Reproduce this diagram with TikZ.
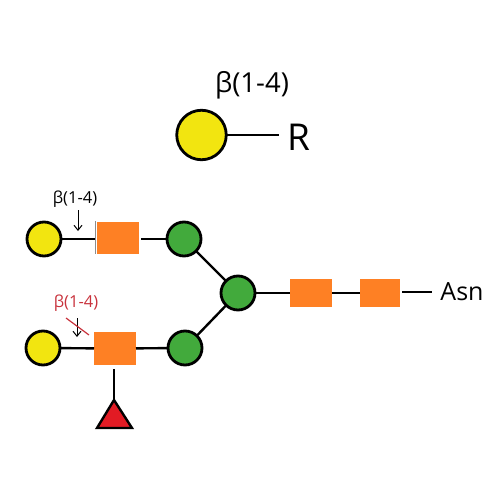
\documentclass[tikz,border=0pt]{standalone}
\usepackage{fontspec}
\setmainfont{Open Sans}
\definecolor{gyellow}{RGB}{242,229,16}
\definecolor{ggreen}{RGB}{66,170,60}
\definecolor{gorange}{RGB}{254,128,36}
\definecolor{gred}{RGB}{226,27,36}
\definecolor{tred}{RGB}{200,50,60}
\usetikzlibrary{arrows.meta,shapes.geometric}
\tikzset{
  px/.style={x=1pt,y=-1pt},
  link/.style={line width=2.4pt,black},
  sugar/.style={circle,draw=black,line width=2.8pt,inner sep=0pt,outer sep=0pt},
  gal/.style={sugar,fill=gyellow,minimum size=#1},
  gal/.default=34pt,
  man/.style={sugar,fill=ggreen,minimum size=34pt},
  glcnac/.style={rectangle,fill=gorange,inner sep=0pt,outer sep=0pt,minimum width=#1,minimum height=28pt},
  glcnac/.default=42pt,
  fucshape/.style={draw=black,fill=gred,line width=2.4pt,line join=miter},
  lab/.style={font=\fontsize{#1}{#1}\selectfont,inner sep=0pt,outer sep=0pt},
  pointer/.style={-{Straight Barb[length=5pt,width=8pt]},line width=1pt,black}
}
\begin{document}
\begin{tikzpicture}[px]
\useasboundingbox (0,0) rectangle (500,500);
% top legend
\node[lab=27.5] (toplab) at (252,85) {β(1-4)};
\node[lab=37] (R) at (299,137) {R};
\coordinate (Rend) at (279,135);
\node[gal=49.5pt] (g0) at (201.5,135) {};
\draw[link] (g0) -- (Rend);
% branch 1
\node[gal] (g1) at (44,239) {};
\node[glcnac,minimum height=32pt] (n1) at (118,238) {};
\node[man] (m1) at (184,239) {};
\coordinate (tick1) at (95,221);
\coordinate (tick2) at (95,254);
\coordinate (n1e) at (141,239);
\draw[link] (g1) -- (tick1 |- g1);
\draw[line width=0.8pt,black!45] (tick1) -- (tick2);
\draw[link] (n1e) -- (m1);
\node[lab=16.5] (l1) at (75,199) {β(1-4)};
\coordinate (a1s) at (78,210);
\coordinate (a1e) at (78,231);
\draw[pointer] (a1s) -- (a1e);
% branch 2
\node[gal] (g2) at (43,348) {};
\node[glcnac,minimum height=33pt] (n2) at (115,348.5) {};
\node[man] (m2) at (185,348) {};
\draw[link] (g2) -- (n2);
\draw[link] (n2) -- (m2);
\node[lab=16.5,text=tred] (l2) at (76,303) {β(1-4)};
\coordinate (a2s) at (77,318);
\coordinate (a2e) at (77,337);
\draw[pointer] (a2s) -- (a2e);
\coordinate (s1) at (66,318);
\coordinate (s2) at (89,335);
\draw[line width=1.2pt,tred] (s1) -- (s2);
% fucose
\coordinate (fs) at (114,369);
\coordinate (fa) at (114,400);
\coordinate (fl) at (97,428);
\coordinate (fr) at (132,428);
\draw[link] (fs) -- (fa);
\draw[fucshape] (fa) -- (fr) -- (fl) -- cycle;
% core
\node[man] (m0) at (238,293) {};
\node[glcnac] (n3) at (311,293) {};
\node[glcnac=40pt] (n4) at (380,293) {};
\draw[link] (m1) -- (m0);
\draw[link] (m2) -- (m0);
\draw[link] (m0) -- (n3);
\draw[link] (n3) -- (n4);
\coordinate (n4e) at (402,292);
\coordinate (asnl) at (432,292);
\draw[link] (n4e) -- (asnl);
\node[lab=25] (asn) at (462,292) {Asn};
\end{tikzpicture}
\end{document}
